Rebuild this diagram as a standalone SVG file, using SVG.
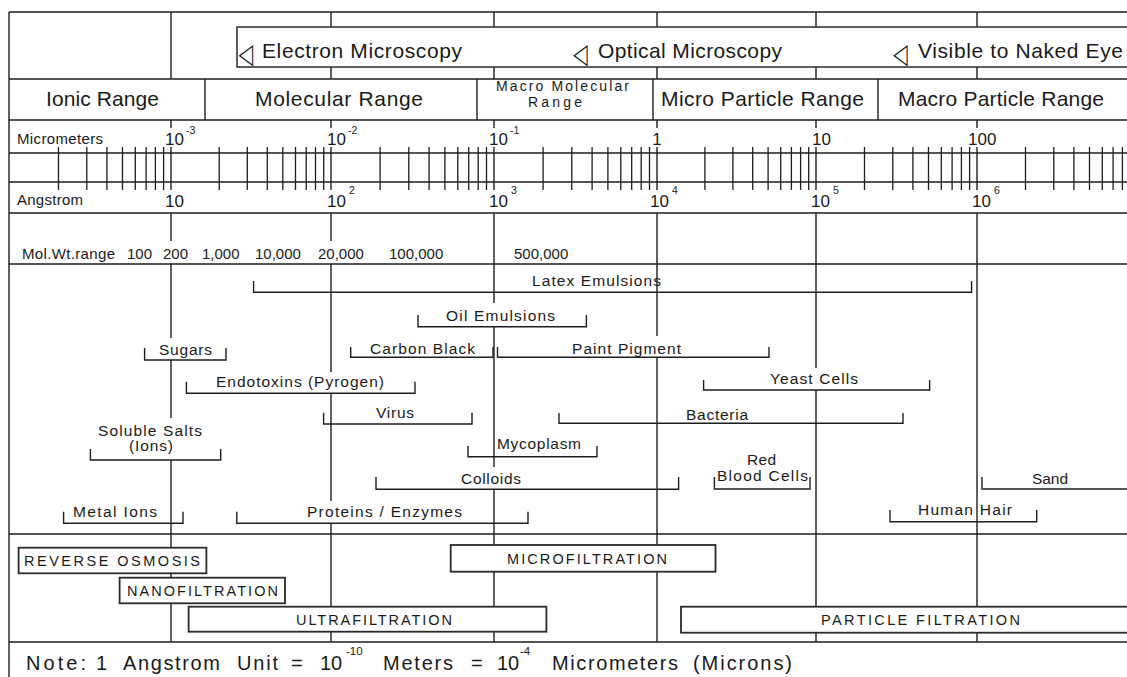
<svg xmlns="http://www.w3.org/2000/svg" width="1127" height="677" viewBox="0 0 1127 677">
<style>
.ln{stroke:#1e1e1e;stroke-width:1.4;fill:none}
.tk{stroke:#1e1e1e;stroke-width:1.3;fill:none}
.bx{stroke:#2a2a2a;stroke-width:1.8;fill:#fff}
.br{stroke:#1e1e1e;stroke-width:1.4;fill:none}
text{font-family:"Liberation Sans",Arial,sans-serif;fill:#1a1a1a}
.h{font-size:21px}
.mm{font-size:14px}
.d{font-size:17px}
.s{font-size:15px}
.sup{font-size:10.5px}
.b{font-size:15.5px}
.f{font-size:14.5px}
.n{font-size:20px}
.tri{font-family:"DejaVu Sans",sans-serif;font-size:28px}
</style>
<rect width="1127" height="677" fill="#fff"/>
<g id="grid">
<path class="ln" d="M9 12V677M9 12H1127M9 79H1127M9 120H1127M9 153H1127M9 182H1127M9 213H1127M9 264H1127M9 534H1127M9 642H1127"/>
<path class="ln" d="M205 79V120M477 79V120M653 79V120M878 79V120"/>
<path class="ln" d="M171 12V79M171 120V128M171 147V190M171 213V241M171 264V338M171 360V418M171 460V642"/>
<path class="ln" d="M331 12V27M331 67V79M331 120V128M331 147V190M331 213V241M331 264V372M331 393V501M331 523V642"/>
<path class="ln" d="M494 12V27M494 67V79M494 120V128M494 147V190M494 213V303M494 327V467M494 489V642"/>
<path class="ln" d="M657 12V27M657 67V79M657 120V128M657 147V190M657 213V336M657 357V642"/>
<path class="ln" d="M816 12V27M816 67V79M816 120V128M816 147V190M816 213V368M816 390V642"/>
<path class="ln" d="M977 12V27M977 67V79M977 120V128M977 147V190M977 213V642"/>
<path class="tk" d="M58.5 147V190M86.8 147V190M106.9 147V190M122.5 147V190M135.3 147V190M146.1 147V190M155.4 147V190M163.6 147V190M219.2 147V190M247.3 147V190M267.3 147V190M282.8 147V190M295.5 147V190M306.2 147V190M315.5 147V190M323.7 147V190M380.1 147V190M408.8 147V190M429.1 147V190M444.9 147V190M457.8 147V190M468.7 147V190M478.2 147V190M486.5 147V190M543.1 147V190M571.8 147V190M592.1 147V190M607.9 147V190M620.8 147V190M631.7 147V190M641.2 147V190M649.5 147V190M704.9 147V190M732.9 147V190M752.7 147V190M768.1 147V190M780.7 147V190M791.4 147V190M800.6 147V190M808.7 147V190M864.5 147V190M892.8 147V190M912.9 147V190M928.5 147V190M941.3 147V190M952.1 147V190M961.4 147V190M969.6 147V190M1025.5 147V190M1053.8 147V190M1073.9 147V190M1089.5 147V190M1102.3 147V190M1113.1 147V190M1122.4 147V190"/>
</g>
<g id="microscopy">
<rect class="bx" x="237" y="27" width="1000" height="40" style="stroke-width:1.5"/>
<text class="tri" transform="translate(238.5 63) scale(0.68 1)">◁</text>
<text class="h" x="262" y="58" textLength="200">Electron Microscopy</text>
<text class="tri" transform="translate(573 63) scale(0.68 1)">◁</text>
<text class="h" x="598" y="58" textLength="184">Optical Microscopy</text>
<text class="tri" transform="translate(893 63) scale(0.68 1)">◁</text>
<text class="h" x="918" y="58" textLength="205">Visible to Naked Eye</text>
</g>
<g id="ranges">
<text class="h" x="46" y="106" textLength="113">Ionic Range</text>
<text class="h" x="255" y="106" textLength="168">Molecular Range</text>
<text class="mm" x="496" y="91" textLength="133">Macro Molecular</text>
<text class="mm" x="528" y="107" textLength="54">Range</text>
<text class="h" x="661" y="106" textLength="203">Micro Particle Range</text>
<text class="h" x="898" y="106" textLength="206">Macro Particle Range</text>
</g>
<g id="micrometers">
<text class="s" x="17" y="144" textLength="86">Micrometers</text>
<text class="d" x="165" y="145">10</text><text class="sup" x="186" y="134">-3</text>
<text class="d" x="327" y="145">10</text><text class="sup" x="348" y="134">-2</text>
<text class="d" x="489" y="145">10</text><text class="sup" x="510" y="134">-1</text>
<text class="d" x="657" y="145" text-anchor="middle">1</text>
<text class="d" x="812" y="145">10</text>
<text class="d" x="968" y="145">100</text>
</g>
<g id="angstrom">
<text class="s" x="17" y="205" textLength="66">Angstrom</text>
<text class="d" x="165" y="207">10</text>
<text class="d" x="327" y="207">10</text><text class="sup" x="349" y="194">2</text>
<text class="d" x="489" y="207">10</text><text class="sup" x="511" y="194">3</text>
<text class="d" x="650" y="207">10</text><text class="sup" x="672" y="194">4</text>
<text class="d" x="811" y="207">10</text><text class="sup" x="833" y="194">5</text>
<text class="d" x="972" y="207">10</text><text class="sup" x="994" y="194">6</text>
</g>
<g id="molwt">
<text class="s" x="22" y="259" textLength="93">Mol.Wt.range</text>
<text class="s" x="127" y="259">100</text>
<text class="s" x="163" y="259">200</text>
<text class="s" x="202" y="259">1,000</text>
<text class="s" x="255" y="259">10,000</text>
<text class="s" x="318" y="259">20,000</text>
<text class="s" x="389" y="259">100,000</text>
<text class="s" x="514" y="259">500,000</text>
</g>
<g id="latex"><path class="br" d="M253.6 281V292.3H971.6V281"/><text class="b" x="532" y="286" textLength="129">Latex Emulsions</text></g>
<g id="oil"><path class="br" d="M418 315V326.7H586.4V315"/><text class="b" x="446" y="321" textLength="109">Oil Emulsions</text></g>
<g id="sugars"><path class="br" d="M144.6 348V360H226V348"/><text class="b" x="159" y="355" textLength="53">Sugars</text></g>
<g id="carbon"><path class="br" d="M350.7 347V357.3H493V347"/><text class="b" x="370" y="354" textLength="105">Carbon Black</text></g>
<g id="paint"><path class="br" d="M497.5 347V357.3H769V347"/><text class="b" x="572" y="354" textLength="109">Paint Pigment</text></g>
<g id="endotoxins"><path class="br" d="M186.4 381.7V393.3H415V381.7"/><text class="b" x="216" y="387" textLength="168">Endotoxins (Pyrogen)</text></g>
<g id="yeast"><path class="br" d="M703.6 380V390H929.6V380"/><text class="b" x="770" y="384" textLength="88">Yeast Cells</text></g>
<g id="virus"><path class="br" d="M323.6 412.7V424H472V412.7"/><text class="b" x="376" y="418" textLength="38">Virus</text></g>
<g id="bacteria"><path class="br" d="M559 413V423.3H903V413"/><text class="b" x="686" y="420" textLength="62">Bacteria</text></g>
<g id="salts"><path class="br" d="M90.4 449V460H220.7V449"/><text class="b" x="98" y="436" textLength="104">Soluble Salts</text><text class="b" x="129" y="451" textLength="44">(Ions)</text></g>
<g id="mycoplasm"><path class="br" d="M468 446V456.7H597V446"/><text class="b" x="497" y="449" textLength="84">Mycoplasm</text></g>
<g id="colloids"><path class="br" d="M376 477V489.3H678.6V477"/><text class="b" x="461" y="484" textLength="60">Colloids</text></g>
<g id="rbc"><path class="br" d="M714.4 477V489H810V477"/><text class="b" x="747" y="465" textLength="29">Red</text><text class="b" x="717" y="481" textLength="91">Blood Cells</text></g>
<g id="sand"><path class="br" d="M982 477V489H1127"/><text class="b" x="1032" y="484" textLength="36">Sand</text></g>
<g id="metal"><path class="br" d="M63.6 511.7V523.3H183V511.7"/><text class="b" x="73" y="517" textLength="84">Metal Ions</text></g>
<g id="proteins"><path class="br" d="M236.8 511.7V523.3H528V511.7"/><text class="b" x="307" y="517" textLength="155">Proteins / Enzymes</text></g>
<g id="hair"><path class="br" d="M890 510V521.7H1036.7V510"/><text class="b" x="918" y="515" textLength="94">Human Hair</text></g>
<g id="ro"><rect class="bx" x="18.6" y="547.7" width="187.8" height="25.6"/><text class="f" x="24" y="566" textLength="176">REVERSE OSMOSIS</text></g>
<g id="nano"><rect class="bx" x="119.6" y="577.7" width="165.4" height="25.6"/><text class="f" x="127" y="596" textLength="151">NANOFILTRATION</text></g>
<g id="ultra"><rect class="bx" x="188.6" y="606.7" width="357.8" height="25"/><text class="f" x="296" y="624.5" textLength="156">ULTRAFILTRATION</text></g>
<g id="micro"><rect class="bx" x="450.7" y="545" width="264.8" height="26.7"/><text class="f" x="507" y="563.5" textLength="160">MICROFILTRATION</text></g>
<g id="particle"><rect class="bx" x="681" y="606.7" width="500" height="26"/><text class="f" x="821" y="624.5" textLength="199">PARTICLE FILTRATION</text></g>
<g id="note">
<text class="n" x="26" y="670" textLength="60">Note:</text>
<text class="n" x="96" y="670">1</text>
<text class="n" x="123" y="670" textLength="97">Angstrom</text>
<text class="n" x="237" y="670" textLength="41">Unit</text>
<text class="n" x="291" y="670">=</text>
<text class="n" x="320" y="670">10</text>
<text style="font-size:11.5px" x="346" y="655">-10</text>
<text class="n" x="383" y="670" textLength="70">Meters</text>
<text class="n" x="471" y="670">=</text>
<text class="n" x="497" y="670">10</text>
<text style="font-size:11.5px" x="520" y="655">-4</text>
<text class="n" x="552" y="670" textLength="126">Micrometers</text>
<text class="n" x="693" y="670" textLength="99">(Microns)</text>
</g>
</svg>
